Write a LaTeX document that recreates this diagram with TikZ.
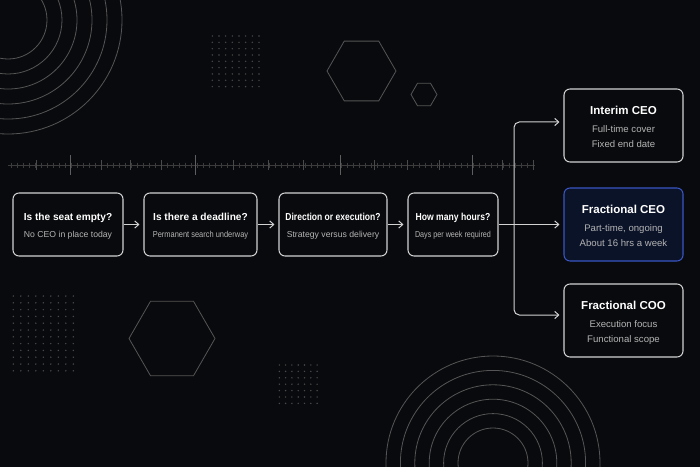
\documentclass[tikz,border=0pt]{standalone}
\usepackage{fontspec}
\setmainfont{Liberation Sans}
\usetikzlibrary{arrows.meta,calc}
\definecolor{bg}{HTML}{090A0D}
\definecolor{boxline}{HTML}{D2D2D2}
\definecolor{subtxt}{HTML}{B4B4B4}
\definecolor{deco}{HTML}{555555}
\definecolor{dotc}{HTML}{4A4A4A}
\definecolor{tickc}{HTML}{3C3C3C}
\definecolor{tickmid}{HTML}{4A4A4A}
\definecolor{tickhi}{HTML}{5E5E5E}
\definecolor{blueline}{HTML}{3A55C4}
\definecolor{bluefill}{HTML}{0B1329}
\newcommand{\sqz}[2]{\scalebox{#1}[1]{#2}}
\begin{document}
\begin{tikzpicture}[x=0.75pt,y=-0.75pt,
  box/.style={draw=boxline, line width=0.8pt, rounded corners=4.5pt, fill=bg, inner sep=0pt},
  hlbox/.style={box, draw=blueline, fill=bluefill},
  ttl/.style={text=white, font=\bfseries\fontsize{7.6}{9}\selectfont, inner sep=0pt, anchor=base},
  subt/.style={text=subtxt, font=\fontsize{6.5}{8}\selectfont, inner sep=0pt, anchor=base},
  bigttl/.style={ttl, font=\bfseries\fontsize{8.65}{10}\selectfont},
  bigsub/.style={subt, font=\fontsize{7.2}{9}\selectfont},
  conn/.style={draw=boxline, line width=0.75pt, -{Straight Barb[length=3pt,width=5.4pt]}, shorten >=3pt},
  decoline/.style={draw=deco, line width=0.6pt}
]
\useasboundingbox (0,0) rectangle (700,467);
\fill[bg] (0,0) rectangle (700,467);

% concentric circles
\begin{scope}
\clip (0,0) rectangle (700,467);
\foreach \r in {39,54,69,84,99,114} \draw[decoline] (8,20) circle[radius=\r];
\foreach \r in {35,49.4,63.8,78.2,92.6,107} \draw[decoline] (493,463) circle[radius=\r];
\end{scope}

% hexagons
\draw[decoline] (361.5,71) +(0:34.5) -- +(60:34.5) -- +(120:34.5) -- +(180:34.5) -- +(240:34.5) -- +(300:34.5) -- cycle;
\draw[decoline] (424,94.5) +(0:13) -- +(60:13) -- +(120:13) -- +(180:13) -- +(240:13) -- +(300:13) -- cycle;
\draw[decoline] (172,338.5) +(0:43) -- +(60:43) -- +(120:43) -- +(180:43) -- +(240:43) -- +(300:43) -- cycle;

% dot grids
\foreach \i in {0,...,7} \foreach \j in {0,...,8} \fill[dotc] ({212.3+6.67*\i},{36+6.33*\j}) circle[radius=0.8];
\foreach \i in {0,...,8} \foreach \j in {0,...,11} \fill[dotc] ({13.3+7.5*\i},{296+6.8*\j}) circle[radius=0.8];
\foreach \i in {0,...,6} \foreach \j in {0,...,6} \fill[dotc] ({279.3+6.3*\i},{365+6.4*\j}) circle[radius=0.8];

% tick ruler
\draw[tickc, line width=0.5pt] (8,165) -- (535,165);
\foreach \x in {11,17,...,533} \draw[tickc, line width=0.5pt] (\x,162.5) -- (\x,167.5);
\foreach \x in {36,101,130,161,233,268,303,374,407,439,502,533} \draw[tickmid, line width=0.6pt] (\x,160) -- (\x,170);
\foreach \x in {70,195,340,472} \draw[tickhi, line width=0.6pt] (\x,155) -- (\x,175);

% left boxes
\node[box, minimum width=82.5pt, minimum height=47.25pt] (b1) at (68,224.5) {};
\node[box, minimum width=84.75pt, minimum height=47.25pt] (b2) at (200.5,224.5) {};
\node[box, minimum width=81pt, minimum height=47.25pt] (b3) at (333,224.5) {};
\node[box, minimum width=67.5pt, minimum height=47.25pt] (b4) at (453,224.5) {};

\node[ttl] (t1) at ($(b1.center)+(0,-4.2)$) {Is the seat empty?};
\node[subt] (s1) at ($(b1.center)+(0,12.9)$) {No CEO in place today};
\node[ttl] (t2) at ($(b2.center)+(0,-4.2)$) {Is there a deadline?};
\node[subt] (s2) at ($(b2.center)+(0,12.9)$) {\sqz{0.86}{Permanent search underway}};
\node[ttl] (t3) at ($(b3.center)+(0,-4.2)$) {\sqz{0.84}{Direction or execution?}};
\node[subt] (s3) at ($(b3.center)+(0,12.9)$) {Strategy versus delivery};
\node[ttl] (t4) at ($(b4.center)+(0,-4.2)$) {\sqz{0.85}{How many hours?}};
\node[subt] (s4) at ($(b4.center)+(0,12.9)$) {\sqz{0.83}{Days per week required}};

% right boxes
\node[box, minimum width=89.25pt, minimum height=54.75pt] (interim) at (623.5,125.5) {};
\node[hlbox, minimum width=89.25pt, minimum height=54.75pt] (fceo) at (623.5,224.5) {};
\node[box, minimum width=89.25pt, minimum height=54.75pt] (coo) at (623.5,320.5) {};

\node[bigttl] (ti) at ($(interim.center)+(0,-10.8)$) {Interim CEO};
\node[bigsub] (si1) at ($(interim.center)+(0,6.8)$) {Full-time cover};
\node[bigsub] (si2) at ($(interim.center)+(0,21.6)$) {Fixed end date};
\node[bigttl] (tf) at ($(fceo.center)+(0,-10.8)$) {Fractional CEO};
\node[bigsub] (sf1) at ($(fceo.center)+(0,6.8)$) {Part-time, ongoing};
\node[bigsub] (sf2) at ($(fceo.center)+(0,21.6)$) {About 16 hrs a week};
\node[bigttl] (tc) at ($(coo.center)+(0,-10.8)$) {Fractional COO};
\node[bigsub] (sc1) at ($(coo.center)+(0,6.8)$) {Execution focus};
\node[bigsub] (sc2) at ($(coo.center)+(0,21.6)$) {Functional scope};

% connectors
\draw[conn] (b1.east) -- (b2.west);
\draw[conn] (b2.east) -- (b3.west);
\draw[conn] (b3.east) -- (b4.west);
\draw[conn] (b4.east) -- (fceo.west);
\coordinate (j) at (514,224.5);
\draw[conn, rounded corners=4pt] (j) |- ($(interim.west)+(0,-3.5)$);
\draw[conn, rounded corners=4pt] (j) |- ($(coo.west)+(0,-5.5)$);
\end{tikzpicture}
\end{document}
